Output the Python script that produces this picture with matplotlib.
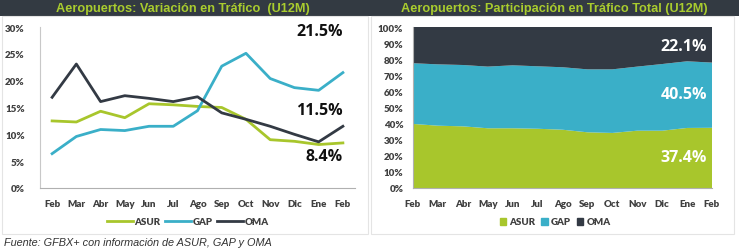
import matplotlib.pyplot as plt
from matplotlib.patches import Rectangle
from matplotlib.lines import Line2D
import numpy as np

months = ['Feb', 'Mar', 'Abr', 'May', 'Jun', 'Jul', 'Ago', 'Sep', 'Oct', 'Nov', 'Dic', 'Ene', 'Feb']

# Variación en tráfico (%)
asur_var = [12.5, 12.3, 14.3, 13.1, 15.7, 15.5, 15.2, 15.0, 12.8, 9.0, 8.7, 8.1, 8.4]
gap_var = [6.4, 9.6, 10.9, 10.7, 11.5, 11.5, 14.4, 22.7, 25.1, 20.4, 18.7, 18.2, 21.5]
oma_var = [16.9, 23.1, 16.1, 17.2, 16.7, 16.1, 17.0, 14.0, 12.8, 11.5, 10.0, 8.6, 11.5]

# Participación en tráfico total (%)
asur_share = [39.8, 38.7, 38.3, 37.1, 37.1, 36.8, 36.2, 34.6, 34.2, 35.6, 35.6, 37.3, 37.4]
gap_share = [37.7, 38.1, 38.1, 38.3, 39.1, 38.8, 38.8, 39.1, 39.5, 39.8, 41.4, 41.4, 40.5]
oma_share = [22.5, 23.2, 23.6, 24.6, 23.8, 24.4, 25.0, 26.3, 26.3, 24.6, 23.0, 21.3, 22.1]

c_asur = '#a8c62c'
c_gap = '#3aafc8'
c_oma = '#333a44'
title_col = '#a9cc2e'
tick_col = '#404040'

W, H = 739, 251
fig = plt.figure(figsize=(W / 100, H / 100), dpi=100)
fig.patch.set_facecolor('white')

def fx(px):
    return px / W

def fy(py):
    return 1 - py / H

# title bar across the top
fig.patches.append(Rectangle((0, fy(17)), 1, 17 / H, transform=fig.transFigure,
                             facecolor='#333a42', edgecolor='none', zorder=0))
# panel borders
for x0, x1 in [(2, 368), (371, 734)]:
    fig.patches.append(Rectangle((fx(x0), fy(235)), fx(x1 - x0), (235 - 17) / H,
                                 transform=fig.transFigure, facecolor='none',
                                 edgecolor='#e4e4e4', lw=0.8, zorder=0))

fig.text(fx(183), fy(9), 'Aeropuertos: Variación en Tráfico  (U12M)', color=title_col,
         fontsize=9.2, fontweight='bold', family='Liberation Sans', ha='center', va='center')
fig.text(fx(554), fy(9), 'Aeropuertos: Participación en Tráfico Total (U12M)', color=title_col,
         fontsize=9.2, fontweight='bold', family='Liberation Sans', ha='center', va='center')

tick_font = dict(family='Lato', fontsize=7, fontweight='heavy', color=tick_col)
x = np.arange(len(months))

# ---- left: lines
ax1 = fig.add_axes([fx(40), fy(189), fx(355 - 40), (189 - 28) / H])
ax1.plot(x, asur_var, color=c_asur, lw=2, label='ASUR')
ax1.plot(x, gap_var, color=c_gap, lw=2, label='GAP')
ax1.plot(x, oma_var, color=c_oma, lw=2, label='OMA')
ax1.set_xlim(-0.5, 12.5)
ax1.set_ylim(0, 30)
ax1.set_yticks(range(0, 31, 5))
ax1.set_yticklabels([f'{v}%' for v in range(0, 31, 5)], **tick_font)
ax1.set_xticks(x)
ax1.set_xticklabels(months, **tick_font)
ax1.tick_params(axis='x', length=0, pad=8)
ax1.tick_params(axis='y', length=0, pad=11)
for s in ['top', 'right']:
    ax1.spines[s].set_visible(False)
ax1.spines['left'].set_color('#c8c8c8')
ax1.spines['bottom'].set_color('#b0b0b0')
ax1.spines['left'].set_linewidth(0.8)
ax1.spines['bottom'].set_linewidth(0.8)

big = dict(family='Open Sans', fontsize=11.5, fontweight='bold', ha='right', va='center')
ax1.text(12, gap_var[-1] + 7.8, f'{gap_var[-1]}%', color='#111111', **big)
ax1.text(12, oma_var[-1] + 3.0, f'{oma_var[-1]}%', color='#111111', **big)
ax1.text(12, asur_var[-1] - 2.4, f'{asur_var[-1]}%', color='#111111', **big)

handles = [Line2D([0], [0], color=c, lw=2) for c in [c_asur, c_gap, c_oma]]
leg = fig.legend(handles, ['ASUR', 'GAP', 'OMA'], loc='center', bbox_to_anchor=(fx(188), fy(223)),
                 ncol=3, frameon=False, handlelength=2.6, columnspacing=0.5, handletextpad=0.2,
                 prop=dict(family='Lato', size=7, weight='heavy'))
for t in leg.get_texts():
    t.set_color(tick_col)

# ---- right: stacked area
ax2 = fig.add_axes([fx(413), fy(189), fx(712 - 413), (189 - 28) / H])
ax2.stackplot(x, asur_share, gap_share, oma_share, colors=[c_asur, c_gap, c_oma], lw=0)
ax2.set_xlim(0, 12)
ax2.set_ylim(0, 100)
ax2.set_yticks(range(0, 101, 10))
ax2.set_yticklabels([f'{v}%' for v in range(0, 101, 10)], **tick_font)
ax2.set_xticks(x)
ax2.set_xticklabels(months, **tick_font)
ax2.tick_params(axis='x', length=0, pad=8)
ax2.tick_params(axis='y', length=0, pad=7)
for s in ['top', 'right']:
    ax2.spines[s].set_visible(False)
ax2.spines['left'].set_color('#b0b0b0')
ax2.spines['bottom'].set_color('#b0b0b0')
ax2.spines['left'].set_linewidth(0.8)
ax2.spines['bottom'].set_linewidth(0.8)

ax2.text(11.8, 100 - oma_share[-1] / 2 - 0.5, f'{oma_share[-1]}%', color='white', **big)
ax2.text(11.8, asur_share[-1] + gap_share[-1] / 2 + 0.5, f'{gap_share[-1]}%', color='white', **big)
ax2.text(11.8, asur_share[-1] / 2 + 0.5, f'{asur_share[-1]}%', color='white', **big)

handles2 = [Rectangle((0, 0), 1, 1, color=c) for c in [c_asur, c_gap, c_oma]]
leg2 = fig.legend(handles2, ['ASUR', 'GAP', 'OMA'], loc='center', bbox_to_anchor=(fx(555), fy(223)),
                  ncol=3, frameon=False, handlelength=0.7, handleheight=0.7, columnspacing=0.6,
                  handletextpad=0.3, prop=dict(family='Lato', size=7, weight='heavy'))
for t in leg2.get_texts():
    t.set_color(tick_col)

fig.text(fx(4), fy(243), 'Fuente: GFBX+ con información de ASUR, GAP y OMA', fontsize=7.8,
         style='italic', family='Liberation Sans', color='#333333', va='center')

fig.savefig('out.png', dpi=100)
